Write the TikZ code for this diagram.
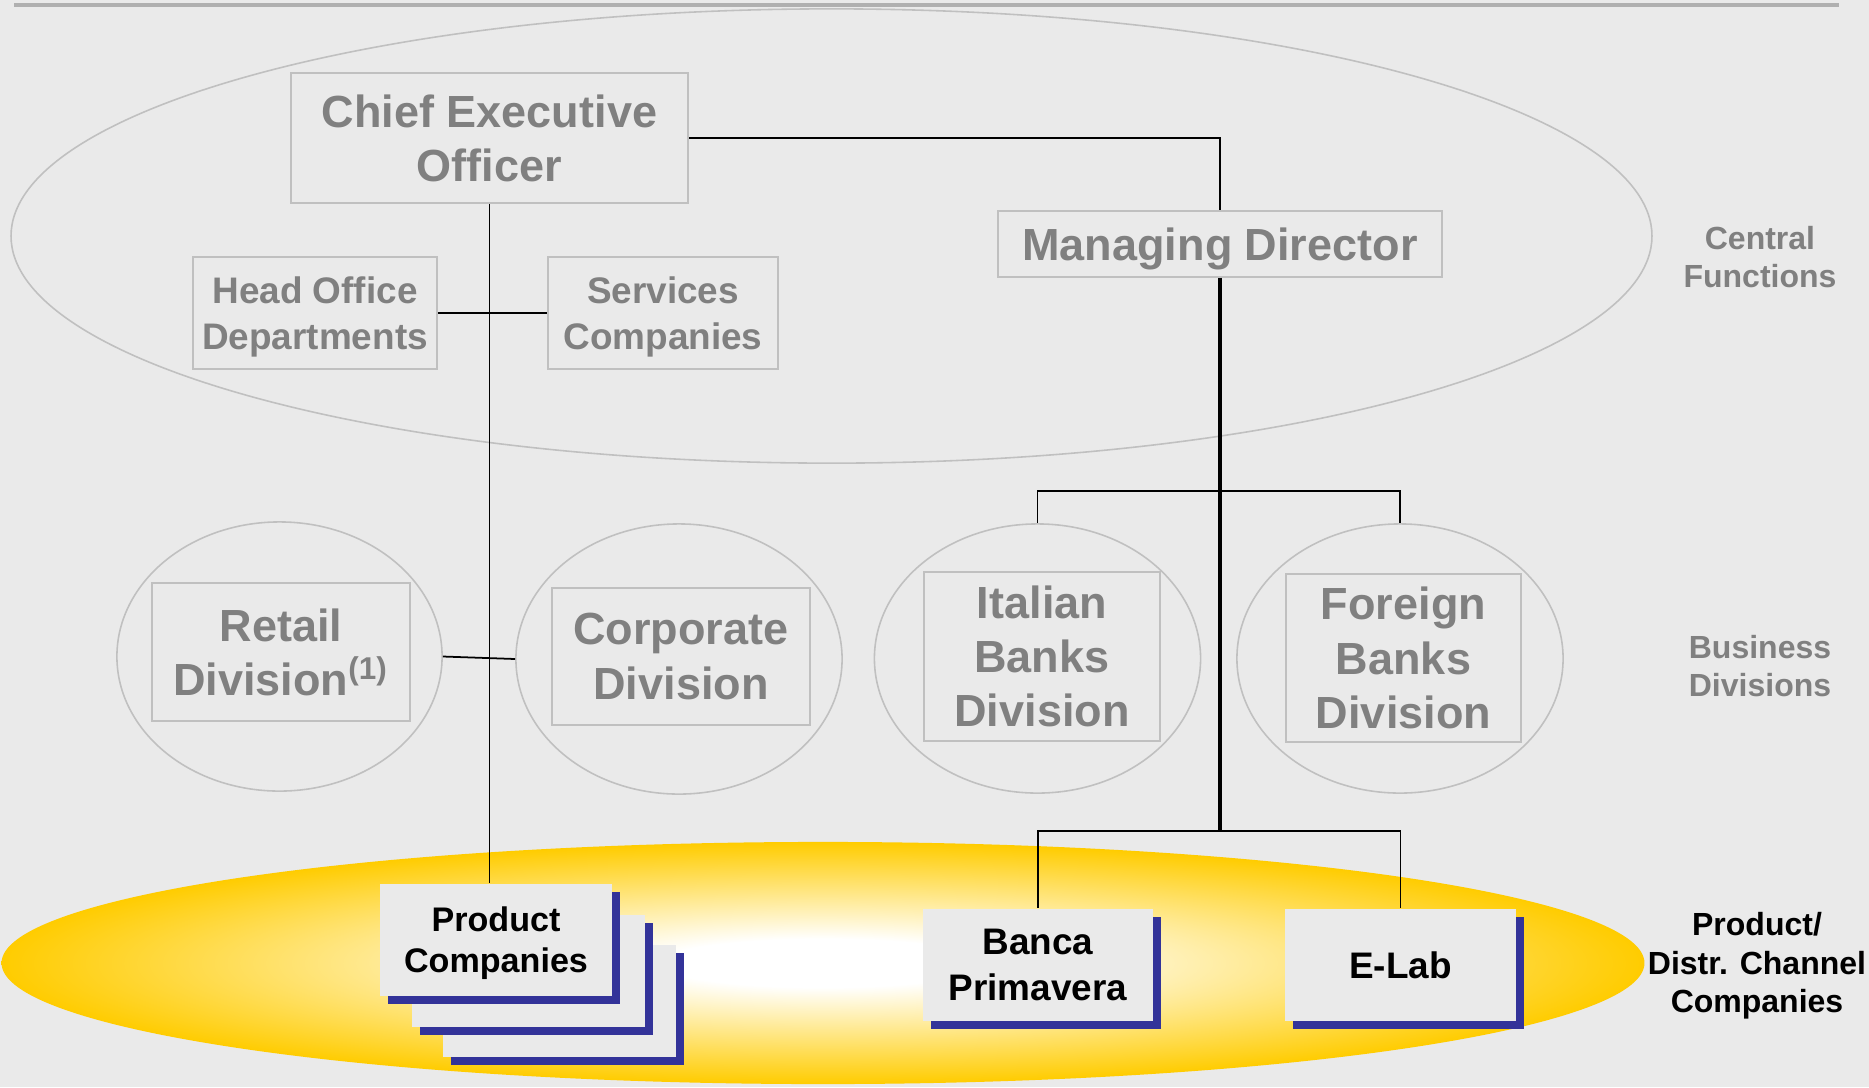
\documentclass[tikz,border=0pt]{standalone}
\usepackage{fontspec}
\setmainfont{Liberation Sans}
\usetikzlibrary{shapes.geometric,shadows,calc}
\definecolor{bg}{HTML}{EAEAEA}
\definecolor{boxgray}{HTML}{C0C0C0}
\definecolor{txtgray}{HTML}{808080}
\definecolor{topline}{HTML}{B0B0B0}
\definecolor{gold}{HTML}{FFCC00}
\definecolor{shblue}{HTML}{333399}
\pgfdeclareradialshading{goldglow}{\pgfpoint{0bp}{0bp}}{color(0bp)=(white); color(5bp)=(white); color(25bp)=(gold); color(50bp)=(gold)}
\begin{document}
\begin{tikzpicture}[x=0.01cm,y=-0.01cm,
  fbig/.style={font=\bfseries\fontsize{12.8}{15.4}\selectfont},
  fmid/.style={font=\bfseries\fontsize{10.5}{13.2}\selectfont},
  fprod/.style={font=\bfseries\fontsize{9.7}{11.7}\selectfont},
  flbl/.style={font=\bfseries\fontsize{9.1}{10.9}\selectfont},
  gbox/.style={draw=boxgray, line width=0.5pt, text=txtgray, align=center, inner sep=0pt, fbig},
  gell/.style={ellipse, draw=boxgray, line width=0.45pt, inner sep=0pt},
  pbox/.style={fill=bg, inner sep=0pt, minimum width=2.32cm, minimum height=1.12cm, align=center, text=black,
     general shadow={fill=shblue, shadow xshift=0.08cm, shadow yshift=-0.08cm}},
  lbl/.style={align=center, inner sep=0pt, flbl},
  conn/.style={draw=black, line width=0.5pt},
  thickconn/.style={draw=black, line width=0.9pt}
]
\fill[bg] (0,0) rectangle (1869,1087);
\useasboundingbox (0,0) rectangle (1869,1087);
\draw[topline, line width=1.15pt] (14,5) -- (1839,5);

% yellow band
\shade[shading=goldglow] (823,963) ellipse [x radius=8.21cm, y radius=1.21cm];

% central functions ellipse
\node[gell, minimum width=16.40cm, minimum height=4.54cm] (cfell) at (831.5,236) {};

% top boxes
\node[gbox, minimum width=3.97cm, minimum height=1.30cm] (ceo) at (489.5,138) {Chief Executive\\Officer};
\node[gbox, fmid, text depth=0pt, minimum width=2.44cm, minimum height=1.12cm] (hod) at (315,313) {Head Office\\Departments};
\node[gbox, fmid, text depth=0pt, minimum width=2.30cm, minimum height=1.12cm] (svc) at (663,313) {Services\\Companies};
\node[gbox, text depth=0pt, minimum width=4.44cm, minimum height=0.66cm] (md) at (1220,244) {Managing Director};

% division ellipses and boxes
\node[gell, minimum width=3.25cm, minimum height=2.69cm] (retE) at (279.5,656.5) {};
\node[gell, minimum width=3.26cm, minimum height=2.70cm] (corE) at (679,659) {};
\node[gell, minimum width=3.26cm, minimum height=2.69cm] (itaE) at (1037.5,658.5) {};
\node[gell, minimum width=3.26cm, minimum height=2.69cm] (forE) at (1400,658.5) {};
\node[gbox, minimum width=2.58cm, minimum height=1.38cm] (ret) at (281,652) {Retail\\Division\textsuperscript{(1)}};
\node[gbox, minimum width=2.58cm, minimum height=1.37cm] (cor) at (681,656.5) {Corporate\\Division};
\node[gbox, minimum width=2.36cm, minimum height=1.69cm] (ita) at (1042,656.5) {Italian\\Banks\\Division};
\node[gbox, minimum width=2.35cm, minimum height=1.68cm] (forg) at (1403.5,658) {Foreign\\Banks\\Division};

% product companies stack
\node[pbox] (pc3) at (559.5,1001) {};
\node[pbox] (pc2) at (528.5,971) {};
\node[pbox, fprod, text depth=0pt] (pc1) at (496,940) {Product\\Companies};
\node[pbox, fmid, minimum width=2.30cm] (banca) at (1038,965) {Banca\\Primavera};
\node[pbox, fmid, minimum width=2.31cm] (elab) at (1400.5,965) {E-Lab};

% right labels
\node[lbl, text=txtgray] (cf) at (1760,257) {Central\\Functions};
\node[lbl, text=txtgray] (bd) at (1760,666) {Business\\Divisions};
\node[lbl, text=black] (pd) at (1757,966) {Product/\\Distr. Channel\\Companies};

% connectors
\coordinate (jd) at (1220,491);
\coordinate (jb) at (1220,831);
\draw[conn] (ceo.south) -- (ceo.south |- pc1.north);
\draw[conn] (hod.east) -- (svc.west);
\draw[conn] (retE.east) -- (corE.west);
\draw[conn] (ceo.east) -| (md.north);
\draw[thickconn] (md.south) -- (jb);
\draw[conn] (jd) -| (itaE.north);
\draw[conn] (jd) -| (forE.north);
\draw[conn] (jb) -| (banca.north);
\draw[conn] (jb) -| (elab.north);
\end{tikzpicture}
\end{document}
